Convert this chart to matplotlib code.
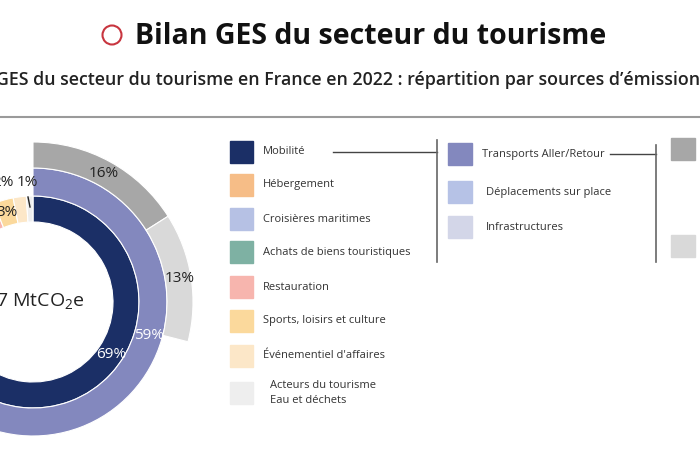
import matplotlib
matplotlib.use("Agg")
import matplotlib.pyplot as plt
from matplotlib.patches import Rectangle, Circle
import numpy as np

plt.rcParams["font.family"] = ["Open Sans", "DejaVu Sans"]
plt.rcParams["mathtext.fontset"] = "custom"
plt.rcParams["mathtext.rm"] = "Open Sans"

# inner ring: emission sources (share of total, %)
sources = [
    "Mobilité",
    "Hébergement",
    "Croisières maritimes",
    "Achats de biens touristiques",
    "Restauration",
    "Sports, loisirs et culture",
    "Événementiel d'affaires",
    "Acteurs du tourisme\nEau et déchets",
]
source_pct = [69, 6, 2, 12, 5, 3, 2, 1]
source_colors = ["#1b2f66", "#f6bd87", "#b6c1e4", "#7eb1a3",
                 "#f7b5ae", "#fbd99c", "#fce7c8", "#eeeeee"]

# middle ring: mobility breakdown
mobility = ["Transports Aller/Retour", "Déplacements sur place", "Infrastructures"]
mobility_pct = [59, 7, 3]
mobility_colors = ["#8388be", "#b6c2e6", "#d3d6e8"]

# outer ring: breakdown of round trips (only two parts shown)
trips_pct = [16, 13]
trips_colors = ["#a7a7a7", "#d9d9d9"]

total_label = "97 MtCO$_2$e"

W, H = 700, 450
fig = plt.figure(figsize=(7, 4.5), dpi=100)

# donut axes: data units = pixels, centre at (33, 302) from top
cx, cy = 33, H - 302
ax = fig.add_axes([(cx - 200) / W, (cy - 200) / H, 400 / W, 400 / H])
r_hole, r_in, r_mid, r_out = 80, 106, 134, 160


def ring(values, colors, r, width, total=100):
    vals = list(values)
    cols = list(colors)
    if sum(vals) < total:
        vals.append(total - sum(vals))
        cols.append("none")
    wedges, _ = ax.pie(vals, radius=r, colors=cols, startangle=90,
                       counterclock=False, normalize=True,
                       wedgeprops=dict(width=width, edgecolor="white", linewidth=0.8))
    if cols[-1] == "none":
        wedges[-1].set_edgecolor("none")
    return wedges


ring(source_pct, source_colors, r_in, r_in - r_hole)
ring(mobility_pct, mobility_colors, r_mid, r_mid - r_in)
ring(trips_pct, trips_colors, r_out, r_out - r_mid)


def mid_angle(values, i):
    start = 90 - 3.6 * sum(values[:i])
    return np.deg2rad(start - 1.8 * values[i])


def label(values, i, r, color, **kw):
    a = mid_angle(values, i)
    ax.text(r * np.cos(a), r * np.sin(a), f"{values[i]}%", color=color,
            ha="center", va="center", fontsize=11, **kw)


label(source_pct, 0, 94, "white")
label(mobility_pct, 0, 121, "white")
label(trips_pct, 0, 147, "#222222")
label(trips_pct, 1, 148, "#222222")

# small slices labelled outside / by hand
ax.text(-6, 119, f"{source_pct[7]}%", ha="center", va="center", fontsize=11, color="#222222")
ax.plot([-5, -3], [105, 95], color="#222222", lw=1)
ax.text(-30, 119, f"{source_pct[6]}%", ha="center", va="center", fontsize=11, color="#222222")
ax.text(-26, 89, f"{source_pct[5]}%", ha="center", va="center", fontsize=11, color="#222222")

ax.text(2, 0, total_label, ha="center", va="center", fontsize=14, color="#222222")
ax.set_xlim(-200, 200)
ax.set_ylim(-200, 200)
ax.set_aspect("auto")
ax.axis("off")

# overlay axes in pixel coordinates for titles and legend
ov = fig.add_axes([0, 0, 1, 1], zorder=-1)
ov.set_xlim(0, W)
ov.set_ylim(H, 0)
ov.axis("off")

ov.add_patch(Circle((112, 35), 9.5, fill=False, edgecolor="#c8353f", lw=1.5))
ov.text(135, 36, "Bilan GES du secteur du tourisme", fontsize=20.5,
        fontweight="bold", ha="left", va="center", color="#111111")
ov.text(-4, 80, "GES du secteur du tourisme en France en 2022 : répartition par sources d’émissions",
        fontsize=12.8, fontweight="semibold", ha="left", va="center", color="#222222")
ov.plot([0, W], [117, 117], color="#9a9a9a", lw=1.5)

# legend column 1
rows1 = [152, 185, 219, 252, 287, 321, 356, 393]
for name, col, y in zip(sources, source_colors, rows1):
    ov.add_patch(Rectangle((230, y - 11), 23, 22, color=col))
    x = 270 if "\n" in name else 263
    ov.text(x, y, name, fontsize=8, ha="left", va="center", color="#333333",
            linespacing=1.5)

ov.plot([333, 437], [152, 152], color="#444444", lw=1)
ov.plot([437, 437], [140, 262], color="#666666", lw=1.2)

# legend column 2
rows2 = [154, 192, 227]
for j, (name, col, y) in enumerate(zip(mobility, mobility_colors, rows2)):
    ov.add_patch(Rectangle((448, y - 11), 24, 22, color=col))
    ov.text(482 if j == 0 else 486, y, name, fontsize=8, ha="left", va="center",
            color="#333333")

ov.plot([610, 656], [154, 154], color="#444444", lw=1)
ov.plot([656, 656], [145, 262], color="#666666", lw=1.2)

# legend column 3 (labels cropped off)
for col, y in zip(trips_colors, [149, 246]):
    ov.add_patch(Rectangle((671, y - 11), 24, 22, color=col))

fig.savefig("out.png", dpi=100)
